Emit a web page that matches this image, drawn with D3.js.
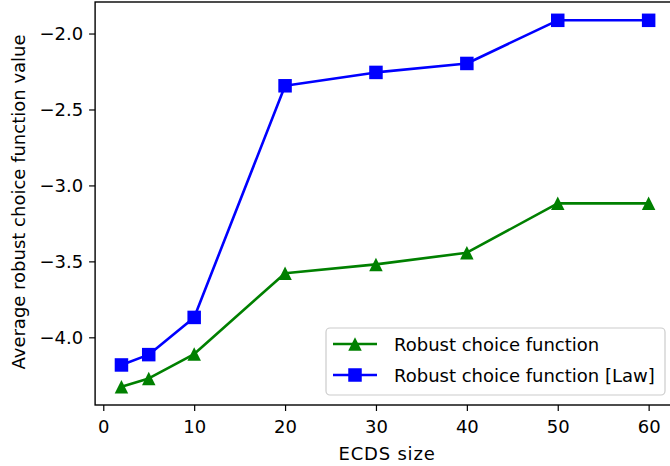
<!DOCTYPE html>
<html>
<head>
<meta charset="utf-8">
<script src="https://cdn.jsdelivr.net/npm/d3@7"></script>
<style>
  html, body { margin: 0; padding: 0; background: #fff; }
  svg { display: block; font-family: "DejaVu Sans", sans-serif; }
</style>
</head>
<body>
<svg id="chart" width="670" height="466"></svg>
<script>
const ecdsSizes = [2, 5, 10, 20, 30, 40, 50, 60];
const robustValues = [-4.325, -4.271, -4.110, -3.578, -3.520, -3.443, -3.118, -3.118];
const robustLawValues = [-4.182, -4.114, -3.869, -2.344, -2.256, -2.197, -1.913, -1.913];
const xTickValues = [0, 10, 20, 30, 40, 50, 60];
const yTickValues = [-4.0, -3.5, -3.0, -2.5, -2.0];
const seriesNames = ["Robust choice function", "Robust choice function [Law]"];
const xLabel = "ECDS size";
const yLabel = "Average robust choice function value";

(function () {
const plotL = 95.1, plotR = 675, plotT = 2, plotB = 405;
const fs = 18;

const svg = d3.select("#chart");

const xmin = d3.min(ecdsSizes), xmax = d3.max(ecdsSizes);
const xm = (xmax - xmin) * 0.05;
const allY = robustValues.concat(robustLawValues);
const ymin = d3.min(allY), ymax = d3.max(allY);
const ym = (ymax - ymin) * 0.05;

const x = d3.scaleLinear().domain([xmin - xm, xmax + xm]).range([plotL, plotR]);
const y = d3.scaleLinear().domain([ymin - ym, ymax + ym]).range([plotB, plotT]);

const fmtY = v => d3.format(".1f")(v).replace("-", "\u2212");

// axes
const xAxis = d3.axisBottom(x).tickValues(xTickValues).tickSize(6).tickPadding(9).tickFormat(d3.format("d"));
const gx = svg.append("g").attr("transform", `translate(0,${plotB})`).call(xAxis);
const yAxis = d3.axisLeft(y).tickValues(yTickValues).tickSize(6).tickPadding(6).tickFormat(fmtY);
const gy = svg.append("g").attr("transform", `translate(${plotL},0)`).call(yAxis);

[gx, gy].forEach(g => {
  g.select(".domain").remove();
  g.selectAll(".tick line").attr("stroke", "#000").attr("stroke-width", 1.2);
  g.selectAll(".tick text").attr("fill", "#000").style("font-size", fs + "px").style("font-family", "DejaVu Sans");
});

// frame
svg.append("rect").attr("x", plotL).attr("y", plotT).attr("width", plotR - plotL).attr("height", plotB - plotT)
  .attr("fill", "none").attr("stroke", "#000").attr("stroke-width", 1.4);

// lines
const line = d3.line().x(d => x(d[0])).y(d => y(d[1]));
const greenData = ecdsSizes.map((v, i) => [v, robustValues[i]]);
const blueData = ecdsSizes.map((v, i) => [v, robustLawValues[i]]);

const ms = 13.5;
const triPath = s => `M0,${-s/2}L${-s/2},${s/2}L${s/2},${s/2}Z`;

function drawSeries(data, color, marker) {
  svg.append("path").datum(data).attr("d", line).attr("fill", "none")
    .attr("stroke", color).attr("stroke-width", 2.6).attr("stroke-linejoin", "round");
  const g = svg.append("g");
  if (marker === "square") {
    g.selectAll("rect").data(data).join("rect")
      .attr("x", d => x(d[0]) - ms/2).attr("y", d => y(d[1]) - ms/2)
      .attr("width", ms).attr("height", ms).attr("fill", color);
  } else {
    g.selectAll("path").data(data).join("path")
      .attr("transform", d => `translate(${x(d[0])},${y(d[1])})`)
      .attr("d", triPath(ms)).attr("fill", color);
  }
}
drawSeries(greenData, "#008000", "tri");
drawSeries(blueData, "#0000ff", "square");

// axis labels
svg.append("text").attr("x", 387).attr("y", 460)
  .attr("text-anchor", "middle").style("font-size", fs + "px").style("letter-spacing", "0.8px").text(xLabel);
svg.append("text").attr("transform", `translate(25,202) rotate(-90)`)
  .attr("text-anchor", "middle").style("font-size", fs + "px").text(yLabel);

// legend
const lg = svg.append("g");
lg.append("rect").attr("x", 326).attr("y", 328).attr("width", 339).attr("height", 67)
  .attr("rx", 4).attr("fill", "#fff").attr("fill-opacity", 0.8).attr("stroke", "#cccccc").attr("stroke-width", 1.2);
const legendItems = [
  { name: seriesNames[0], color: "#008000", marker: "tri" },
  { name: seriesNames[1], color: "#0000ff", marker: "square" }
];
legendItems.forEach((it, i) => {
  const cy = 344 + i * 31;
  lg.append("line").attr("x1", 333).attr("x2", 377).attr("y1", cy).attr("y2", cy)
    .attr("stroke", it.color).attr("stroke-width", 2.6);
  if (it.marker === "square") {
    lg.append("rect").attr("x", 355 - ms/2).attr("y", cy - ms/2).attr("width", ms).attr("height", ms).attr("fill", it.color);
  } else {
    lg.append("path").attr("transform", `translate(355,${cy})`).attr("d", triPath(ms)).attr("fill", it.color);
  }
  lg.append("text").attr("x", 394).attr("y", cy + 6.5).style("font-size", fs + "px").text(it.name);
});
})();
</script>
</body>
</html>
